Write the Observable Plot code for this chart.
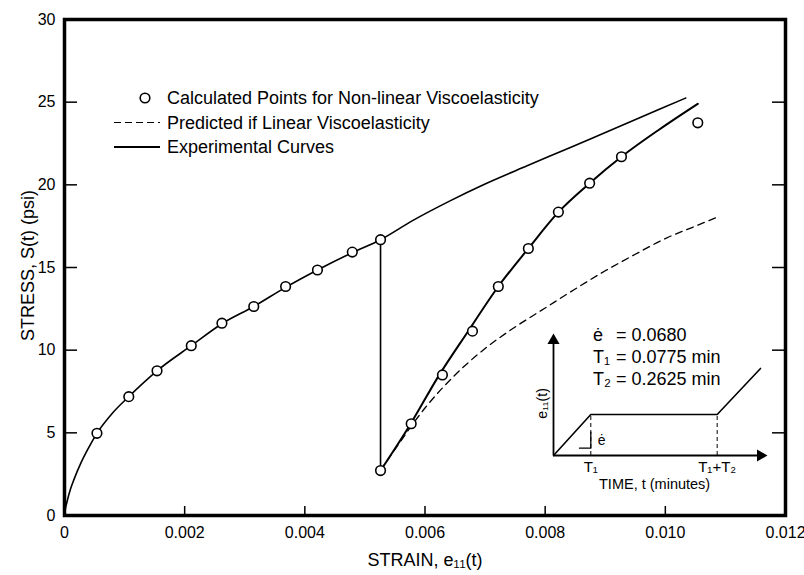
<!DOCTYPE html>
<html>
<head>
<meta charset="utf-8">
<script src="https://cdn.jsdelivr.net/npm/d3@7"></script>
<script src="https://cdn.jsdelivr.net/npm/@observablehq/plot@0.6"></script>
<style>
  html, body { margin: 0; padding: 0; background: #fff; }
  #wrap { position: relative; width: 804px; height: 575px; }
  #inset { position: absolute; left: 500px; top: 320px; }
  svg { overflow: visible; }
</style>
</head>
<body>
<div id="wrap"><div id="main"></div><div id="inset"></div></div>
<script>
// ---------- data (strain in in/in, stress in psi) ----------
const xTicks = [0, 0.002, 0.004, 0.006, 0.008, 0.010, 0.012];
const xTickLabels = ["0", "0.002", "0.004", "0.006", "0.008", "0.010", "0.012"];
const yTicks = [0, 5, 10, 15, 20, 25, 30];
const yTickLabels = ["0", "5", "10", "15", "20", "25", "30"];

// calculated points, non-linear viscoelasticity (circles)
const calcStrain = [0.00054, 0.00107, 0.00154, 0.00211, 0.00262, 0.00315, 0.00368, 0.00421, 0.00479, 0.00526,
                    0.00526, 0.00577, 0.00629, 0.00679, 0.00722, 0.00772, 0.00822, 0.00874, 0.00927, 0.01054];
const calcStress = [4.97, 7.19, 8.75, 10.27, 11.63, 12.64, 13.85, 14.85, 15.93, 16.68,
                    2.72, 5.55, 8.5, 11.15, 13.85, 16.15, 18.35, 20.1, 21.7, 23.75];

// experimental curve: loading (continues past the unload point)
const loadStrain = [0, 0.00001, 0.00004, 0.0001, 0.00016, 0.00027, 0.00038, 0.00054, 0.0008, 0.00107, 0.00154,
                    0.00211, 0.00262, 0.00315, 0.00368, 0.00421, 0.00479, 0.00526, 0.0058, 0.0064, 0.007,
                    0.0077, 0.00825, 0.0088, 0.00936, 0.00992, 0.01034];
const loadStress = [0, 0.3, 0.8, 1.6, 2.2, 3.15, 3.95, 4.97, 6.2, 7.19, 8.75,
                    10.27, 11.6, 12.64, 13.8, 14.85, 15.9, 16.68, 17.85, 19.0, 20.05,
                    21.15, 22.0, 22.85, 23.72, 24.6, 25.25];
// experimental: sudden drop
const dropStrain = [0.00526, 0.00526];
const dropStress = [16.68, 2.72];
// experimental: reloading
const reloadStrain = [0.00526, 0.00577, 0.00622, 0.00671, 0.00722, 0.00772, 0.00822, 0.00874, 0.00927, 0.0099, 0.01054];
const reloadStress = [2.72, 5.6, 8.4, 11.1, 13.85, 16.15, 18.35, 20.1, 21.7, 23.35, 24.9];
// predicted if linear viscoelasticity (dashed)
const linStrain = [0.00526, 0.0055, 0.006, 0.0065, 0.007, 0.0075, 0.008, 0.0085, 0.009, 0.0095, 0.01, 0.0105, 0.0109];
const linStress = [2.72, 4.0, 6.5, 8.5, 10.1, 11.4, 12.55, 13.7, 14.8, 15.8, 16.75, 17.5, 18.1];

// inset: strain history schematic
const insetTime = [0, 0.0775, 0.34, 0.43];
const insetStrain = [0, 0.00527, 0.00527, 0.0112];
const insetMarks = [0.0775, 0.34];
const insetMarkLabels = ["T\u2081", "T\u2081+T\u2082"];
const paramNames = ["\u0117", "T\u2081", "T\u2082"];
const paramValues = ["= 0.0680", "= 0.0775 min", "= 0.2625 min"];

const FONT = "Liberation Sans, Arial, Helvetica, sans-serif";

const pts = (xs, ys) => xs.map((x, i) => ({x, y: ys[i]}));
const calc = pts(calcStrain, calcStress);
const load = pts(loadStrain, loadStress);
const drop = pts(dropStrain, dropStress);
const reload = pts(reloadStrain, reloadStress);
const lin = pts(linStrain, linStress);

const W = 804, H = 575, ML = 64, MR = 19, MT = 19, MB = 60;
const PW = W - ML - MR, PH = H - MT - MB;

const chart = Plot.plot({
  width: W, height: H,
  marginLeft: ML, marginRight: MR, marginTop: MT, marginBottom: MB,
  x: {domain: [0, 0.012]},
  y: {domain: [0, 30]},
  style: {fontFamily: FONT, fontSize: "16px", color: "#000", background: "#fff"},
  marks: [
    // inward ticks
    Plot.tickY(yTicks.slice(1, -1), {y: d => d, insetRight: PW - 13, strokeWidth: 1.5}),
    Plot.tickY(yTicks.slice(1, -1), {y: d => d, insetLeft: PW - 13, strokeWidth: 1.5}),
    Plot.tickX(xTicks.slice(1, -1), {x: d => d, insetTop: PH - 9, strokeWidth: 1.5}),
    // tick labels
    Plot.axisX({ticks: xTicks, tickSize: 0, tickPadding: 11, label: null,
      tickFormat: d => xTickLabels[xTicks.indexOf(d)], fontSize: 16}),
    Plot.axisY({ticks: yTicks, tickSize: 0, tickPadding: 9, label: null,
      tickFormat: d => yTickLabels[yTicks.indexOf(d)], fontSize: 16}),
    // axis titles
    Plot.text(["STRAIN, e\u2081\u2081(t)"], {frameAnchor: "bottom", dy: 50, fontSize: 18}),
    Plot.text(["STRESS, S(t) (psi)"], {frameAnchor: "left", textAnchor: "middle", rotate: -90, dx: -36, dy: -2, fontSize: 18}),
    // curves
    Plot.line(lin, {x: "x", y: "y", curve: "monotone-x", stroke: "#000", strokeWidth: 1.3, strokeDasharray: "7,5"}),
    Plot.line(load, {x: "x", y: "y", curve: "monotone-x", stroke: "#000", strokeWidth: 1.6}),
    Plot.line(drop, {x: "x", y: "y", stroke: "#000", strokeWidth: 1.6}),
    Plot.line(reload, {x: "x", y: "y", curve: "monotone-x", stroke: "#000", strokeWidth: 2}),
    Plot.dot(calc, {x: "x", y: "y", r: 4.8, stroke: "#000", fill: "#fff", strokeWidth: 1.6}),
    Plot.frame({stroke: "#000", strokeWidth: 3.5})
  ]
});
document.getElementById("main").append(chart);

// legend (inside plot area)
const svg = d3.select(chart);
const lg = svg.append("g").attr("font-family", FONT).attr("font-size", 18)
  .attr("fill", "#000").attr("text-anchor", "start");
const legendRows = [
  {kind: "dot", label: "Calculated Points for Non-linear Viscoelasticity"},
  {kind: "dash", label: "Predicted if Linear Viscoelasticity"},
  {kind: "solid", label: "Experimental Curves"}
];
legendRows.forEach((r, i) => {
  const y = 98 + i * 24.5;
  if (r.kind === "dot") lg.append("circle").attr("cx", 145).attr("cy", y).attr("r", 4.8)
      .attr("fill", "#fff").attr("stroke", "#000").attr("stroke-width", 1.6);
  else lg.append("line").attr("x1", 114).attr("x2", 160).attr("y1", y).attr("y2", y)
      .attr("stroke", "#000").attr("stroke-width", r.kind === "dash" ? 1.2 : 1.8)
      .attr("stroke-dasharray", r.kind === "dash" ? "7,4" : null);
  lg.append("text").attr("x", 167).attr("y", y).attr("dy", "0.35em").text(r.label);
});

// ---------- inset ----------
const iW = 280, iH = 180;
const insetPath = insetTime.map((t, i) => ({t, e: insetStrain[i]}));
const slopeMark = [{t: 0.054, e: 0.00094}, {t: 0.0775, e: 0.00094}, {t: 0.0775, e: 0.003}];
const inset = Plot.plot({
  width: iW, height: iH,
  marginLeft: 53, marginRight: 20, marginTop: 20, marginBottom: 45,
  x: {domain: [0, 0.43], axis: null},
  y: {domain: [0, 0.0148], axis: null},
  style: {fontFamily: FONT, color: "#000", background: "transparent"},
  marks: [
    Plot.ruleY([0], {stroke: "#000", strokeWidth: 1.8}),
    Plot.ruleX([0], {stroke: "#000", strokeWidth: 1.8}),
    Plot.dot([0.43], {x: d => d, y: 0, symbol: "triangle", rotate: 90, r: 4.5, fill: "#000", stroke: null}),
    Plot.dot([0.0148], {x: 0, y: d => d, symbol: "triangle", r: 4.5, fill: "#000", stroke: null}),
    Plot.ruleX(insetMarks, {x: d => d, y1: 0, y2: insetStrain[1], stroke: "#000", strokeWidth: 1, strokeDasharray: "4,3"}),
    Plot.line(insetPath, {x: "t", y: "e", stroke: "#000", strokeWidth: 1.6}),
    Plot.line(slopeMark, {x: "t", y: "e", stroke: "#000", strokeWidth: 1.3}),
    Plot.text(["\u0117"], {x: 0.1, y: 0.0019, fontSize: 14}),
    Plot.text(insetMarks, {x: d => d, y: 0, text: (d, i) => insetMarkLabels[i], dy: 12, fontSize: 15}),
    Plot.text(["TIME, t (minutes)"], {frameAnchor: "bottom", x: 0.21, dy: 33, fontSize: 14.5}),
    Plot.text(["e\u2081\u2081(t)"], {x: 0, y: 0.0067, rotate: -90, dx: -11, fontSize: 14})
  ]
});
document.getElementById("inset").append(inset);
// parameter block (aligned columns)
const pg = d3.select(inset).append("g").attr("font-family", FONT).attr("font-size", 18)
  .attr("fill", "#000").attr("text-anchor", "start");
paramNames.forEach((n, i) => {
  const y = 15 + i * 22;
  pg.append("text").attr("x", 93).attr("y", y).attr("dy", "0.35em").text(n);
  pg.append("text").attr("x", 116).attr("y", y).attr("dy", "0.35em").text(paramValues[i]);
});
</script>
</body>
</html>
